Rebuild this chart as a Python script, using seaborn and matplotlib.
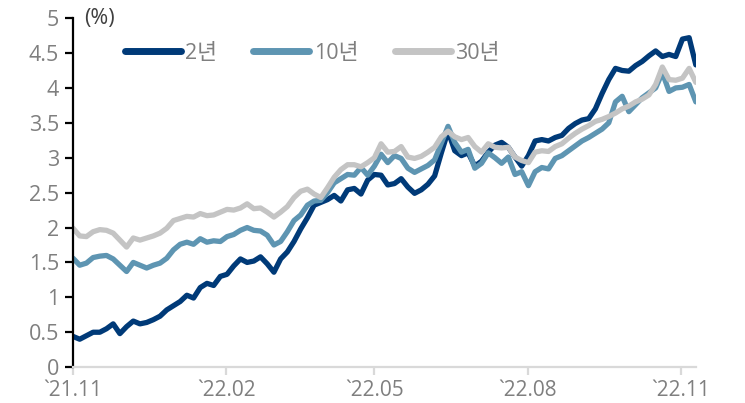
import numpy as np
import pandas as pd
import matplotlib
matplotlib.use("Agg")
import matplotlib.pyplot as plt
import matplotlib.dates as mdates
import seaborn as sns

# US Treasury yields (%), sampled roughly every four days, Nov 2021 - Nov 2022
start_date = "2021-11-01"
end_date = "2022-11-10"

y2 = [0.44, 0.40, 0.45, 0.50, 0.50, 0.55, 0.62, 0.48, 0.58, 0.66,
      0.62, 0.64, 0.68, 0.73, 0.82, 0.88, 0.94, 1.03, 0.99, 1.14,
      1.20, 1.17, 1.30, 1.33, 1.45, 1.55, 1.50, 1.52, 1.58, 1.48,
      1.36, 1.55, 1.65, 1.80, 1.98, 2.14, 2.32, 2.36, 2.40, 2.46,
      2.38, 2.54, 2.56, 2.48, 2.68, 2.76, 2.75, 2.61, 2.63, 2.70,
      2.58, 2.49, 2.54, 2.62, 2.74, 3.07, 3.38, 3.10, 3.03, 3.07,
      2.88, 2.95, 3.08, 3.18, 3.22, 3.15, 3.01, 2.88, 3.03, 3.24,
      3.26, 3.24, 3.29, 3.32, 3.42, 3.49, 3.54, 3.56, 3.70, 3.92,
      4.12, 4.28, 4.25, 4.24, 4.32, 4.38, 4.46, 4.53, 4.45, 4.48,
      4.45, 4.70, 4.72, 4.33]

y10 = [1.56, 1.46, 1.49, 1.57, 1.59, 1.60, 1.55, 1.46, 1.37, 1.50,
       1.46, 1.42, 1.46, 1.49, 1.56, 1.68, 1.76, 1.79, 1.76, 1.84,
       1.79, 1.81, 1.80, 1.87, 1.90, 1.96, 2.00, 1.96, 1.95, 1.89,
       1.75, 1.80, 1.94, 2.10, 2.18, 2.32, 2.38, 2.39, 2.50, 2.64,
       2.70, 2.76, 2.75, 2.86, 2.75, 2.88, 3.05, 2.93, 3.03, 2.99,
       2.85, 2.79, 2.84, 2.89, 2.97, 3.21, 3.45, 3.22, 3.08, 3.12,
       2.85, 2.92, 3.07, 3.00, 2.92, 3.01, 2.76, 2.80, 2.60, 2.80,
       2.86, 2.84, 2.99, 3.03, 3.10, 3.17, 3.24, 3.29, 3.35, 3.41,
       3.50, 3.80, 3.88, 3.66, 3.76, 3.86, 3.93, 4.00, 4.22, 3.95,
       4.00, 4.01, 4.05, 3.80]

y30 = [1.99, 1.88, 1.87, 1.94, 1.97, 1.96, 1.92, 1.82, 1.72, 1.85,
       1.82, 1.85, 1.88, 1.92, 1.99, 2.10, 2.13, 2.16, 2.15, 2.20,
       2.17, 2.18, 2.22, 2.26, 2.25, 2.28, 2.34, 2.27, 2.28, 2.22,
       2.15, 2.22, 2.30, 2.43, 2.52, 2.55, 2.48, 2.43, 2.57, 2.72,
       2.83, 2.90, 2.90, 2.87, 2.93, 3.00, 3.20, 3.08, 3.09, 3.16,
       3.01, 2.99, 3.02, 3.08, 3.15, 3.30, 3.38, 3.30, 3.26, 3.29,
       3.16, 3.08, 3.20, 3.15, 3.14, 3.15, 3.01, 2.96, 2.93, 3.08,
       3.10, 3.09, 3.16, 3.20, 3.28, 3.35, 3.41, 3.46, 3.52, 3.55,
       3.59, 3.64, 3.70, 3.74, 3.80, 3.84, 3.90, 4.05, 4.30, 4.12,
       4.11, 4.14, 4.28, 4.08]

series_names = ["2년", "10년", "30년"]
series_colors = ["#003a78", "#5e95b2", "#c4c4c4"]

tick_dates = ["2021-11-01", "2022-02-01", "2022-05-01", "2022-08-01", "2022-11-01"]
tick_labels = ["`21.11", "`22.02", "`22.05", "`22.08", "`22.11"]
y_ticks = [0, 0.5, 1, 1.5, 2, 2.5, 3, 3.5, 4, 4.5, 5]
y_tick_labels = ["0", "0.5", "1", "1.5", "2", "2.5", "3", "3.5", "4", "4.5", "5"]

dates = pd.date_range(start_date, end_date, periods=len(y2))
df = pd.DataFrame({"date": dates, series_names[0]: y2,
                   series_names[1]: y10, series_names[2]: y30})
long_df = df.melt(id_vars="date", var_name="tenor", value_name="yield")

sns.set_style("white")
plt.rcParams["font.family"] = ["Open Sans", "Noto Sans CJK KR", "DejaVu Sans"]

fig = plt.figure(figsize=(7.45, 4.03), dpi=100)
ax = fig.add_axes([0.098, 0.089, 0.836, 0.866])

sns.lineplot(data=long_df, x="date", y="yield", hue="tenor",
             hue_order=series_names, palette=dict(zip(series_names, series_colors)),
             linewidth=3.8, sort=False, legend=False, ax=ax)
for line in ax.get_lines():
    line.set_solid_capstyle("round")
    line.set_solid_joinstyle("round")

ax.set_xlim(pd.Timestamp(start_date), pd.Timestamp(end_date))
ax.set_ylim(0, 5)
ax.set_xticks(pd.to_datetime(tick_dates))
ax.set_xticklabels(tick_labels)
ax.set_yticks(y_ticks)
ax.set_yticklabels(y_tick_labels)
ax.set_xlabel("")
ax.set_ylabel("")

for side in ["top", "right"]:
    ax.spines[side].set_visible(False)
ax.spines["left"].set_color("black")
ax.spines["left"].set_linewidth(1.6)
ax.spines["bottom"].set_color("#d9d9d9")
ax.spines["bottom"].set_linewidth(1.6)

ax.tick_params(axis="y", direction="out", length=6, width=1.6, color="black",
               labelsize=15.5, labelcolor="#7f7f7f", pad=4)
ax.tick_params(axis="x", direction="out", length=6, width=1.6, color="#d9d9d9",
               labelsize=15, labelcolor="#7f7f7f", pad=3)
ax.tick_params(left=True, bottom=True)

ax.text(0.018, 1.0, "(%)", transform=ax.transAxes, fontsize=15.5,
        color="#404040", va="center", ha="left")

handles = [plt.Line2D([], [], color=c, linewidth=5, solid_capstyle="round")
           for c in series_colors]
leg = ax.legend(handles, series_names, loc="center left",
                bbox_to_anchor=(0.083, 0.9), ncol=3, frameon=False,
                fontsize=15.5, handlelength=2.6, handletextpad=0.2,
                columnspacing=1.7, borderpad=0, borderaxespad=0)
for t in leg.get_texts():
    t.set_color("#7f7f7f")

fig.savefig("out.png", dpi=100)
